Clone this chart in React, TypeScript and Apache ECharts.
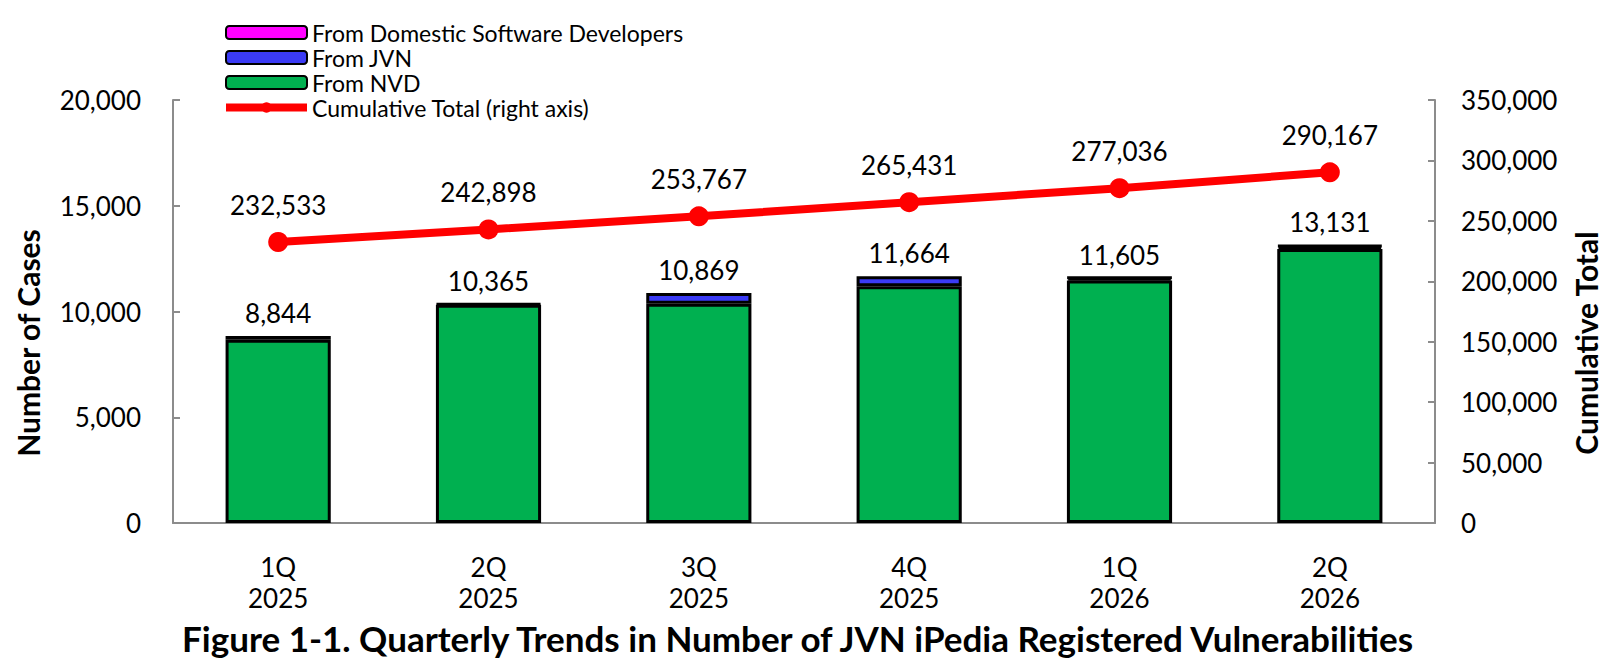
import { useEffect, useRef } from "react";
import * as echarts from "echarts";

const categories = ["1Q\n2025", "2Q\n2025", "3Q\n2025", "4Q\n2025", "1Q\n2026", "2Q\n2026"];
const fromNvd = [8664, 10315, 10369, 11194, 11465, 12951];
const fromJvn = [180, 50, 500, 470, 120, 120];
const fromDomestic = [0, 0, 0, 0, 20, 60];
const quarterTotals = [8844, 10365, 10869, 11664, 11605, 13131];
const cumulativeTotal = [232533, 242898, 253767, 265431, 277036, 290167];

const FONT = "Lato, 'Liberation Sans', sans-serif";
const AXIS_GRAY = "#8c8c8c";
const fmt = (v: number) => v.toLocaleString("en-US");

const App = () => {
  const chartRef = useRef<HTMLDivElement>(null);

  useEffect(() => {
    document.body.style.margin = "0";
    if (!chartRef.current) return;
    const chart = echarts.init(chartRef.current, undefined, { renderer: "svg" });

    const barStyle = (color: string) => ({
      color,
      borderColor: "#000",
      borderWidth: 3,
    });

    const option: echarts.EChartsOption = {
      animation: false,
      textStyle: { fontFamily: FONT, color: "#000" },
      title: {
        text: "Figure 1-1. Quarterly Trends in Number of JVN iPedia Registered Vulnerabilities",
        left: 182,
        top: 620,
        padding: 0,
        textStyle: { fontFamily: FONT, fontSize: 35, fontWeight: "bold", color: "#000" },
      },
      legend: {
        orient: "vertical",
        left: 217,
        top: 16,
        itemWidth: 81,
        itemHeight: 13,
        itemGap: 2,
        data: ["From Domestic Software Developers", "From JVN", "From NVD", "Cumulative Total (right axis)"],
        lineStyle: { width: 8 },
        textStyle: { fontFamily: FONT, fontSize: 23, color: "#000", lineHeight: 22 },
      },
      grid: {
        left: 173,
        right: 181,
        top: 100,
        bottom: 143,
        containLabel: false,
      },
      xAxis: {
        type: "category",
        data: categories,
        axisLine: { lineStyle: { color: AXIS_GRAY, width: 2 } },
        axisTick: { inside: true, length: 8, lineStyle: { color: AXIS_GRAY, width: 2 } },
        axisLabel: { color: "#000", fontSize: 26, lineHeight: 31, margin: 28, fontFamily: FONT },
      },
      yAxis: [
        {
          type: "value",
          min: 0,
          max: 20000,
          interval: 5000,
          axisLine: { show: true, lineStyle: { color: AXIS_GRAY, width: 2 } },
          axisTick: { show: true, inside: true, length: 7, lineStyle: { color: AXIS_GRAY, width: 2 } },
          splitLine: { show: false },
          axisLabel: { color: "#000", fontSize: 26, margin: 32, fontFamily: FONT, formatter: (v: number) => fmt(v) },
        },
        {
          type: "value",
          min: 0,
          max: 350000,
          interval: 50000,
          axisLine: { show: true, lineStyle: { color: AXIS_GRAY, width: 2 } },
          axisTick: { show: true, inside: true, length: 7, lineStyle: { color: AXIS_GRAY, width: 2 } },
          splitLine: { show: false },
          axisLabel: { color: "#000", fontSize: 26, margin: 26, fontFamily: FONT, formatter: (v: number) => fmt(v) },
        },
      ],
      graphic: [
        {
          type: "text",
          x: 28,
          y: 343,
          rotation: Math.PI / 2,
          style: {
            text: "Number of Cases",
            fontFamily: FONT,
            fontSize: 30,
            fontWeight: "bold",
            fill: "#000",
            align: "center",
            verticalAlign: "middle",
          },
        },
        {
          type: "text",
          x: 1586,
          y: 343,
          rotation: Math.PI / 2,
          style: {
            text: "Cumulative Total",
            fontFamily: FONT,
            fontSize: 30,
            fontWeight: "bold",
            fill: "#000",
            align: "center",
            verticalAlign: "middle",
          },
        },
      ],
      series: [
        {
          name: "From NVD",
          type: "bar",
          stack: "cases",
          barWidth: "50%",
          data: fromNvd,
          itemStyle: barStyle("#00b050"),
        },
        {
          name: "From JVN",
          type: "bar",
          stack: "cases",
          data: fromJvn,
          itemStyle: barStyle("#3b3bf5"),
        },
        {
          name: "From Domestic Software Developers",
          type: "bar",
          stack: "cases",
          data: fromDomestic.map((v) => (v > 0 ? v : "-")),
          itemStyle: barStyle("#ff00ff"),
        },
        {
          // carries the quarter totals above each stack
          name: "total",
          type: "bar",
          stack: "cases",
          data: quarterTotals.map(() => 0),
          itemStyle: { color: "transparent", borderWidth: 0 },
          label: {
            show: true,
            position: "top",
            distance: 10,
            fontSize: 26,
            color: "#000",
            fontFamily: FONT,
            formatter: (p: any) => fmt(quarterTotals[p.dataIndex]),
          },
        },
        {
          name: "Cumulative Total (right axis)",
          type: "line",
          yAxisIndex: 1,
          data: cumulativeTotal,
          symbol: "circle",
          symbolSize: 20,
          lineStyle: { color: "#ff0000", width: 8 },
          itemStyle: { color: "#ff0000" },
          label: {
            show: true,
            position: "top",
            distance: 14,
            fontSize: 26,
            color: "#000",
            fontFamily: FONT,
            formatter: (p: any) => fmt(p.value),
          },
        },
      ],
    };

    chart.setOption(option);

    return () => {
      chart.dispose();
    };
  }, []);

  return <div ref={chartRef} style={{ width: "1616px", height: "666px" }} />;
};

export default App;
